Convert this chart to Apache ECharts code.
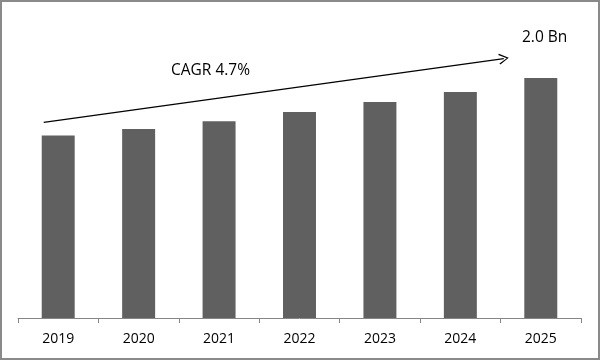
<!DOCTYPE html>
<html><head><meta charset="utf-8">
<script src="https://cdn.jsdelivr.net/npm/echarts@6/dist/echarts.min.js"></script>
<style>html,body{margin:0;padding:0;background:#fff}#c{width:601px;height:361px}</style>
</head><body><div id="c"></div>
<script>
var categories = ['2019','2020','2021','2022','2023','2024','2025'];
var values = [1.52, 1.575, 1.64, 1.717, 1.80, 1.883, 2.0];
var cagrLabel = 'CAGR 4.7%';
var endLabel = '2.0 Bn';
var arrowStart = [-0.18, 1.63];
var arrowEnd = [5.54, 2.162];

var chart = echarts.init(document.getElementById('c'), null, {renderer:'canvas'});
chart.setOption({
  animation:false,
  backgroundColor:'#fff',
  grid:{left:18, right:20, top:30, bottom:43},
  xAxis:[{
    type:'category', data:categories,
    axisLine:{lineStyle:{color:'#868686', width:1}},
    axisTick:{show:true, length:5, lineStyle:{color:'#868686'}},
    axisLabel:{color:'#000', fontFamily:'"Open Sans", sans-serif', fontSize:14, margin:14}
  },{
    type:'value', min:-0.5, max:6.5, show:false
  }],
  yAxis:{type:'value', min:0, max:2.4, show:false, splitLine:{show:false}},
  series:[{
    type:'bar', data:values, barWidth:'41%',
    itemStyle:{color:'#606060'}
  },{
    type:'line', xAxisIndex:1, data:[], silent:true,
    markLine:{
      silent:true, animation:false,
      symbol:['none','path://M5,0 L10,10 L9,10.9 L5,2.2 L1,10.9 L0,10 Z'],
      symbolSize:[11,10],
      lineStyle:{color:'#000', width:1.3, type:'solid'},
      label:{show:false},
      data:[[{coord:arrowStart},{coord:arrowEnd}]]
    }
  }],
  graphic:[
    {type:'rect', shape:{x:1,y:1,width:598,height:358}, style:{fill:'none', stroke:'#8a8a8a', lineWidth:2}, silent:true},
    {type:'text', x:171, y:71, style:{text:cagrLabel, fill:'#000', font:'15.5px "Open Sans", sans-serif', textAlign:'left', textVerticalAlign:'middle'}},
    {type:'text', x:522, y:38, style:{text:endLabel, fill:'#000', font:'15.5px "Open Sans", sans-serif', textAlign:'left', textVerticalAlign:'middle'}}
  ]
});
</script></body></html>
